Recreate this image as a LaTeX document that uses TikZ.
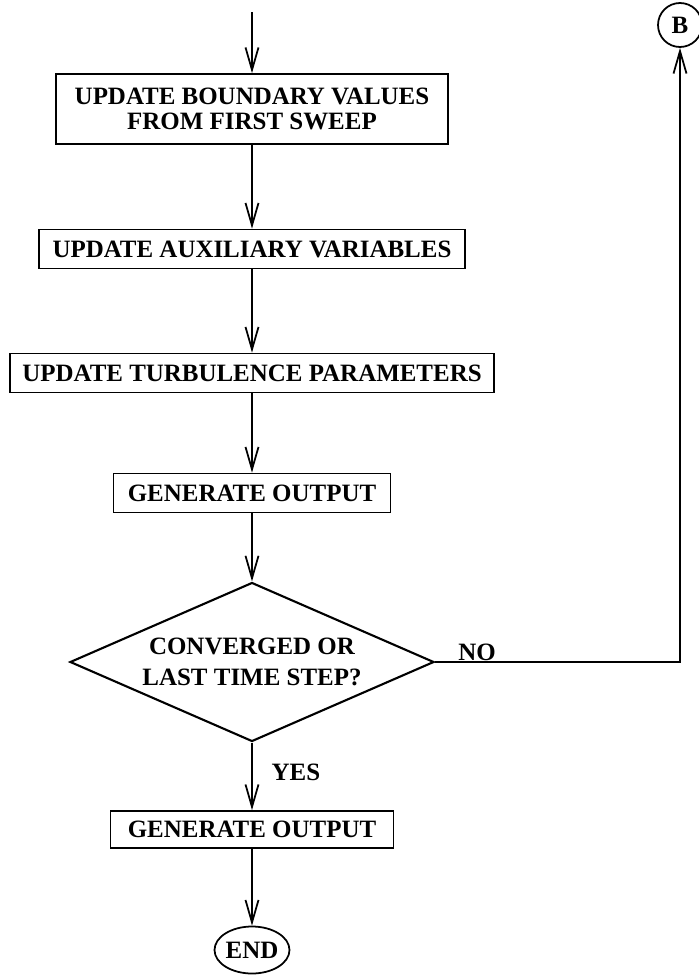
\documentclass[tikz,border=0pt]{standalone}
\usepackage{fontspec}
\setmainfont{Liberation Serif}
\usepackage{tikz}
\usetikzlibrary{arrows.meta, shapes.geometric}

\begin{document}
\begin{tikzpicture}[every node/.style={font=\fontsize{14.2}{14.5}\selectfont\bfseries}, >={Straight Barb[length=4.5mm, width=2.6mm]},
  procbox/.style={rectangle, draw, line width=1pt, inner sep=0pt, minimum height=0.78cm, align=center},
  flow/.style={->, line width=1pt}]
  \useasboundingbox (0,0) rectangle (13.98,-19.54);
  \coordinate (start) at (5.04,-0.24);
  \node[procbox, minimum width=7.84cm, minimum height=1.4cm] (bound) at (5.04,-2.18) {UPDATE BOUNDARY VALUES\\FROM FIRST SWEEP};
  \node[procbox, minimum width=8.52cm] (aux) at (5.04,-4.98) {UPDATE AUXILIARY VARIABLES};
  \node[procbox, minimum width=9.68cm] (turb) at (5.04,-7.46) {UPDATE TURBULENCE PARAMETERS};
  \node[procbox, minimum width=5.54cm] (out1) at (5.04,-9.86) {GENERATE OUTPUT};
  \node[diamond, draw, line width=1.2pt, inner sep=0pt, aspect=2.29, minimum width=7.28cm, minimum height=3.18cm, align=center] (conv) at (5.04,-13.24) {CONVERGED OR\\[3pt]LAST TIME STEP?};
  \node[procbox, minimum width=5.66cm, minimum height=0.74cm] (out2) at (5.04,-16.59) {GENERATE OUTPUT};
  \node[ellipse, draw, line width=1pt, inner sep=0pt, minimum width=1.5cm, minimum height=0.94cm] (end) at (5.04,-19.0) {END};
  \node[circle, draw, line width=1pt, inner sep=0pt, minimum size=0.88cm] (B) at (13.6,-0.5) {B};
  \draw[flow] (start) -- (bound);
  \draw[flow] (bound) -- (aux);
  \draw[flow] (aux) -- (turb);
  \draw[flow] (turb) -- (out1);
  \draw[flow] (out1) -- (conv);
  \draw[flow] (conv) -- (out2);
  \draw[flow] (out2) -- (end);
  \draw[flow] (conv.east) -| (B.south);
  \node (no) at (9.54,-13.04) {NO};
  \node (yes) at (5.92,-15.44) {YES};
\end{tikzpicture}
\end{document}
